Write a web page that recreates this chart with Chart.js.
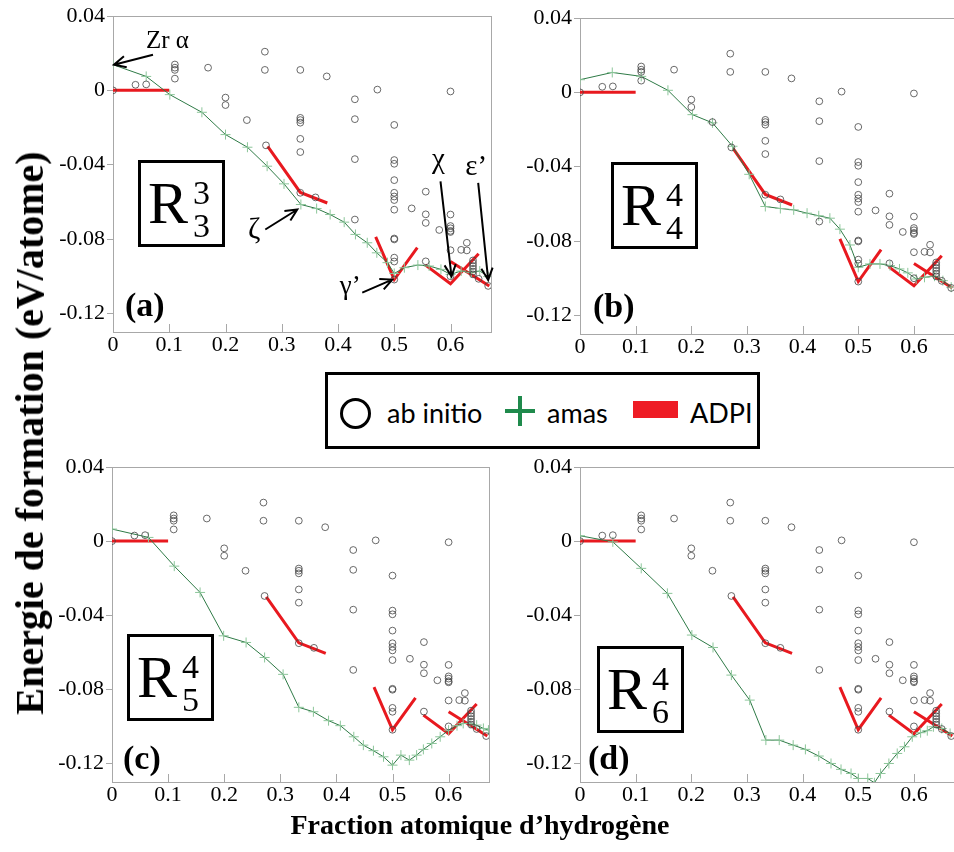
<!DOCTYPE html>
<html>
<head>
<meta charset="utf-8">
<script src="https://cdn.jsdelivr.net/npm/chart.js@4"></script>
<style>
  html, body { margin: 0; padding: 0; background: #fff; }
  #page { position: relative; width: 954px; height: 852px; overflow: hidden; background: #fff; }
  #page canvas { position: absolute; }
  .rbox { position: absolute; box-sizing: border-box; width: 87px; height: 87px; border: 3px solid #000; color: #000; }
  .rbox span { position: absolute; line-height: 1; font-family: "Liberation Serif", "Times New Roman", "DejaVu Serif", serif; }
  .rbox .big { font-size: 60px; left: 7px; top: 10px; }
  .rbox .sup { font-size: 34px; left: 52px; top: 13px; }
  .rbox .sub { font-size: 34px; left: 52px; top: 46px; }
  .plabel { position: absolute; font-weight: bold; font-size: 34px; font-family: "Liberation Serif", "Times New Roman", serif; line-height: 1; }
  #legend { position: absolute; left: 325px; top: 372px; width: 435px; height: 77px; box-sizing: border-box; border: 3px solid #000; background: #fff; }
  #legend .txt { position: absolute; top: 24px; font: 27px Lato, sans-serif; line-height: 1; color: #000; }
  #legend .circ { position: absolute; left: 12px; top: 23px; width: 31px; height: 31px; box-sizing: border-box; border: 3px solid #000; border-radius: 50%; }
  #legend .ph { position: absolute; left: 177px; top: 34px; width: 30px; height: 4px; background: #1f8a4c; }
  #legend .pv { position: absolute; left: 190px; top: 21px; width: 4px; height: 30px; background: #1f8a4c; }
  #legend .rect { position: absolute; left: 305px; top: 26px; width: 45px; height: 17px; background: #ee1c25; }
  #ytitle { position: absolute; left: 30px; top: 433px; transform: translate(-50%, -50%) rotate(-90deg); white-space: nowrap; font-weight: bold; font-size: 40px; font-family: "Liberation Serif", "Times New Roman", serif; line-height: 1; }
  #xtitle { position: absolute; left: 480px; top: 811px; transform: translateX(-50%); white-space: nowrap; font-weight: bold; font-size: 28px; font-family: "Liberation Serif", "Times New Roman", serif; line-height: 1; }
</style>
</head>
<body>
<div id="page">
  <canvas id="chartA" width="500" height="370" style="left:0px;top:0px"></canvas>
  <canvas id="chartB" width="480" height="372" style="left:480px;top:0px"></canvas>
  <canvas id="chartC" width="500" height="820" style="left:0px;top:0px"></canvas>
  <canvas id="chartD" width="480" height="820" style="left:480px;top:0px"></canvas>

  <div class="rbox" style="left:138px;top:160px"><span class="big">R</span><span class="sup">3</span><span class="sub">3</span></div>
  <div class="rbox" style="left:611px;top:162px"><span class="big">R</span><span class="sup">4</span><span class="sub">4</span></div>
  <div class="rbox" style="left:127px;top:634px"><span class="big">R</span><span class="sup">4</span><span class="sub">5</span></div>
  <div class="rbox" style="left:597px;top:646px"><span class="big">R</span><span class="sup">4</span><span class="sub">6</span></div>

  <div class="plabel" style="left:125px;top:288px">(a)</div>
  <div class="plabel" style="left:593px;top:289px">(b)</div>
  <div class="plabel" style="left:123px;top:741px">(c)</div>
  <div class="plabel" style="left:588px;top:741px">(d)</div>

  <div id="legend">
    <div class="circ"></div>
    <span class="txt" style="left:59px">ab initio</span>
    <div class="ph"></div><div class="pv"></div>
    <span class="txt" style="left:219px">amas</span>
    <div class="rect"></div>
    <span class="txt" style="left:362px">ADPI</span>
  </div>

  <div id="ytitle">Energie de formation (eV/atome)</div>
  <div id="xtitle">Fraction atomique d’hydrogène</div>
</div>

<script>
// axis ticks
const xTickValues = [0, 0.1, 0.2, 0.3, 0.4, 0.5, 0.6];
const yTickValues = [-0.12, -0.08, -0.04, 0, 0.04];

// ab initio structures (same in all four panels)
const abInitioX = [
  0, 0.04, 0.059, 0.11, 0.11, 0.11, 0.11, 0.169, 0.2, 0.2, 0.238,
  0.27, 0.27, 0.272, 0.333, 0.333, 0.333, 0.333, 0.333, 0.333, 0.333,
  0.36, 0.38, 0.43, 0.43, 0.43, 0.43, 0.47, 0.6,
  0.5, 0.5, 0.5, 0.5, 0.5, 0.5, 0.5, 0.5, 0.5, 0.5, 0.5, 0.5, 0.5,
  0.531, 0.556, 0.556, 0.556, 0.556, 0.58,
  0.6, 0.6, 0.6, 0.6, 0.6, 0.6, 0.6, 0.619, 0.629, 0.629,
  0.64, 0.64, 0.64, 0.64, 0.64, 0.64, 0.65, 0.667,
];
const abInitioY = [
  0, 0.003, 0.0032, 0.0139, 0.0122, 0.011, 0.0063, 0.0122, -0.0039, -0.0079, -0.016,
  0.0208, 0.011, -0.0296, 0.011, -0.0148, -0.016, -0.0174, -0.0261, -0.0332, -0.0551,
  -0.0576, 0.0075, -0.0048, -0.0155, -0.037, -0.0695, 0.0004, -0.0006,
  -0.0186, -0.0375, -0.0395, -0.0483, -0.0551, -0.0571, -0.059, -0.0642, -0.0797, -0.0802, -0.09, -0.0921, -0.1018,
  -0.0635, -0.0545, -0.0667, -0.0713, -0.092, -0.0751,
  -0.0668, -0.073, -0.0742, -0.0756, -0.0762, -0.086, -0.1, -0.0858, -0.082, -0.0861,
  -0.0915, -0.093, -0.0945, -0.096, -0.0975, -0.099, -0.1014, -0.1052,
];

// amas (cluster expansion) results, one per panel
const amasXa = [0, 0.059, 0.101, 0.158, 0.2, 0.239, 0.274, 0.304, 0.334, 0.362, 0.386, 0.411, 0.431, 0.452, 0.469, 0.488, 0.5, 0.518, 0.542, 0.562, 0.583, 0.6, 0.619, 0.637, 0.652, 0.667];
const amasYa = [0.0138, 0.0075, -0.0023, -0.0118, -0.0238, -0.0306, -0.0408, -0.0503, -0.0614, -0.0636, -0.0668, -0.0709, -0.0775, -0.082, -0.0874, -0.0927, -0.0985, -0.0954, -0.094, -0.0945, -0.0963, -0.099, -0.0972, -0.0981, -0.0972, -0.1002];

const amasXb = [0, 0.058, 0.11, 0.158, 0.202, 0.238, 0.274, 0.304, 0.333, 0.36, 0.384, 0.408, 0.429, 0.449, 0.467, 0.485, 0.5, 0.521, 0.539, 0.557, 0.574, 0.589, 0.604, 0.619, 0.637, 0.652, 0.667];
const amasYb = [0.0068, 0.0107, 0.0086, 0.0011, -0.012, -0.0164, -0.029, -0.0441, -0.0614, -0.0625, -0.0632, -0.065, -0.0664, -0.0677, -0.0736, -0.0821, -0.0941, -0.0923, -0.0923, -0.0932, -0.095, -0.0971, -0.1004, -0.0995, -0.0989, -0.1013, -0.1048];

const amasXc = [0, 0.065, 0.111, 0.157, 0.199, 0.239, 0.272, 0.305, 0.333, 0.359, 0.386, 0.407, 0.431, 0.448, 0.466, 0.484, 0.5, 0.515, 0.53, 0.543, 0.555, 0.57, 0.585, 0.6, 0.615, 0.626, 0.638, 0.65, 0.662, 0.671];
const amasYc = [0.0065, 0.002, -0.0135, -0.0277, -0.0511, -0.0547, -0.0628, -0.0719, -0.0897, -0.0921, -0.0969, -0.0996, -0.1056, -0.1101, -0.1131, -0.1164, -0.1209, -0.1155, -0.1182, -0.1155, -0.1124, -0.1092, -0.1056, -0.102, -0.0996, -0.0984, -0.0984, -0.0993, -0.1011, -0.102];

const amasXd = [0, 0.059, 0.11, 0.157, 0.201, 0.239, 0.272, 0.305, 0.334, 0.358, 0.383, 0.405, 0.429, 0.451, 0.469, 0.487, 0.5, 0.517, 0.529, 0.54, 0.555, 0.57, 0.583, 0.597, 0.612, 0.624, 0.635, 0.65, 0.665];
const amasYd = [0.0029, -0.0004, -0.0147, -0.0282, -0.0507, -0.0574, -0.0723, -0.0858, -0.1074, -0.1074, -0.1101, -0.1124, -0.116, -0.12, -0.1232, -0.1254, -0.1281, -0.1281, -0.1304, -0.1254, -0.12, -0.1146, -0.111, -0.1056, -0.1034, -0.1023, -0.1002, -0.1011, -0.1038];

// ADPI segments, null breaks the line
const adpiX = [0, 0.1, 0.1, 0.275, 0.333, 0.381, 0.381, 0.467, 0.5, 0.541, 0.541, 0.555, 0.6, 0.65, 0.65, 0.6, 0.669];
const adpiY = [0, 0, null, -0.0301, -0.0549, -0.0606, null, -0.0788, -0.1018, -0.0846, null, -0.0939, -0.104, -0.0879, null, -0.0921, -0.1052];

// phase labels in panel (a)
const annotLabels = ["Zr α", "ζ", "γ’", "χ", "ε’"];
const annotX = [0, 0.333, 0.5, 0.6, 0.667];
const annotY = [0.0138, -0.0614, -0.1018, -0.099, -0.1052];

const serif = '"Liberation Serif", "Times New Roman", "DejaVu Serif", serif';

function pts(xs, ys) {
  return xs.map((x, i) => ({ x: x, y: ys[i] }));
}

function fmt(v) {
  const r = Math.round(v * 100) / 100;
  return r === 0 ? "0" : String(r);
}

// grey frame + inward x ticks
const framePlugin = {
  id: "frame",
  beforeDatasetsDraw(chart) {
    const ctx = chart.ctx;
    const a = chart.chartArea;
    ctx.save();
    ctx.strokeStyle = "#a8a8a8";
    ctx.lineWidth = 1;
    ctx.strokeRect(Math.round(a.left) + 0.5, Math.round(a.top) + 0.5, a.right - a.left, a.bottom - a.top);
    xTickValues.forEach((v) => {
      const px = Math.round(chart.scales.x.getPixelForValue(v)) + 0.5;
      ctx.beginPath();
      ctx.moveTo(px, a.bottom);
      ctx.lineTo(px, a.bottom - 8);
      ctx.stroke();
    });
    ctx.restore();
  },
};

// arrows with phase names (panel a only)
const arrowLayout = [
  { tip: [1, 0], tail: [40, -10], text: [33, -17], align: "left", size: 25 },
  { tip: [-3, 5], tail: [-35, 25], text: [-46, 34], align: "center", size: 30 },
  { tip: [-2, 0], tail: [-32, 13], text: [-44, 14], align: "center", size: 27 },
  { tip: [1, 2], tail: [-10, -93], text: [-12, -106], align: "center", size: 29 },
  { tip: [0, -6], tail: [-10, -103], text: [-12, -111], align: "center", size: 29 },
];

const arrowPlugin = {
  id: "arrows",
  afterDraw(chart) {
    const ctx = chart.ctx;
    ctx.save();
    ctx.strokeStyle = "#000";
    ctx.fillStyle = "#000";
    ctx.lineWidth = 2;
    annotLabels.forEach((label, i) => {
      const L = arrowLayout[i];
      const ax = chart.scales.x.getPixelForValue(annotX[i]);
      const ay = chart.scales.y.getPixelForValue(annotY[i]);
      const tx = ax + L.tip[0], ty = ay + L.tip[1];
      const sx = ax + L.tail[0], sy = ay + L.tail[1];
      ctx.beginPath();
      ctx.moveTo(sx, sy);
      ctx.lineTo(tx, ty);
      const ang = Math.atan2(ty - sy, tx - sx);
      const h = 13;
      ctx.moveTo(tx - h * Math.cos(ang - 0.45), ty - h * Math.sin(ang - 0.45));
      ctx.lineTo(tx, ty);
      ctx.lineTo(tx - h * Math.cos(ang + 0.45), ty - h * Math.sin(ang + 0.45));
      ctx.stroke();
      ctx.font = L.size + "px " + serif;
      ctx.textAlign = L.align;
      ctx.textBaseline = "alphabetic";
      ctx.fillText(label, ax + L.text[0], ay + L.text[1]);
    });
    ctx.restore();
  },
};

function makePanel(id, amasX, amasY, yWidth, pad, withArrows) {
  const plugins = [framePlugin];
  if (withArrows) plugins.push(arrowPlugin);
  return new Chart(document.getElementById(id), {
    type: "scatter",
    data: {
      datasets: [
        {
          label: "ab initio",
          data: pts(abInitioX, abInitioY),
          pointStyle: "circle",
          pointRadius: 3.4,
          borderColor: "#444",
          backgroundColor: "rgba(0,0,0,0)",
          borderWidth: 0.8,
          order: 1,
        },
        {
          label: "amas",
          data: pts(amasX, amasY),
          showLine: true,
          borderColor: "#2e7a46",
          borderWidth: 1,
          pointStyle: "cross",
          pointRadius: 5,
          pointBorderColor: "#8cc69a",
          pointBorderWidth: 1,
          order: 2,
        },
        {
          label: "ADPI",
          data: pts(adpiX, adpiY),
          showLine: true,
          spanGaps: false,
          borderColor: "#e8191f",
          borderWidth: 3,
          pointRadius: 0,
          order: 3,
        },
      ],
    },
    options: {
      responsive: false,
      animation: false,
      devicePixelRatio: 1,
      layout: { padding: { top: pad.top, right: pad.right, left: 0, bottom: 0 } },
      plugins: { legend: { display: false }, tooltip: { enabled: false } },
      scales: {
        x: {
          type: "linear",
          min: 0,
          max: 0.672,
          afterBuildTicks: (s) => { s.ticks = xTickValues.map((v) => ({ value: v })); },
          afterFit: (s) => { s.height = pad.xHeight; },
          grid: { display: false, drawTicks: false },
          border: { display: false },
          ticks: {
            padding: 0,
            color: "#000",
            font: { family: serif, size: 22 },
            maxRotation: 0,
            callback: fmt,
          },
        },
        y: {
          type: "linear",
          min: -0.13,
          max: 0.04,
          afterBuildTicks: (s) => { s.ticks = yTickValues.map((v) => ({ value: v })); },
          afterFit: (s) => { s.width = yWidth; },
          grid: { drawOnChartArea: false, drawTicks: true, tickLength: 6, color: "#a8a8a8" },
          border: { display: false },
          ticks: {
            padding: 2,
            color: "#000",
            font: { family: serif, size: 22 },
            callback: fmt,
          },
        },
      },
    },
    plugins: plugins,
  });
}

makePanel("chartA", amasXa, amasYa, 113, { top: 16, right: 9, xHeight: 38 }, true);
makePanel("chartB", amasXb, amasYb, 100, { top: 18, right: 4, xHeight: 38 }, false);
makePanel("chartC", amasXc, amasYc, 112, { top: 467, right: 11, xHeight: 38 }, false);
makePanel("chartD", amasXd, amasYd, 100, { top: 467, right: 3, xHeight: 38 }, false);
</script>
</body>
</html>
